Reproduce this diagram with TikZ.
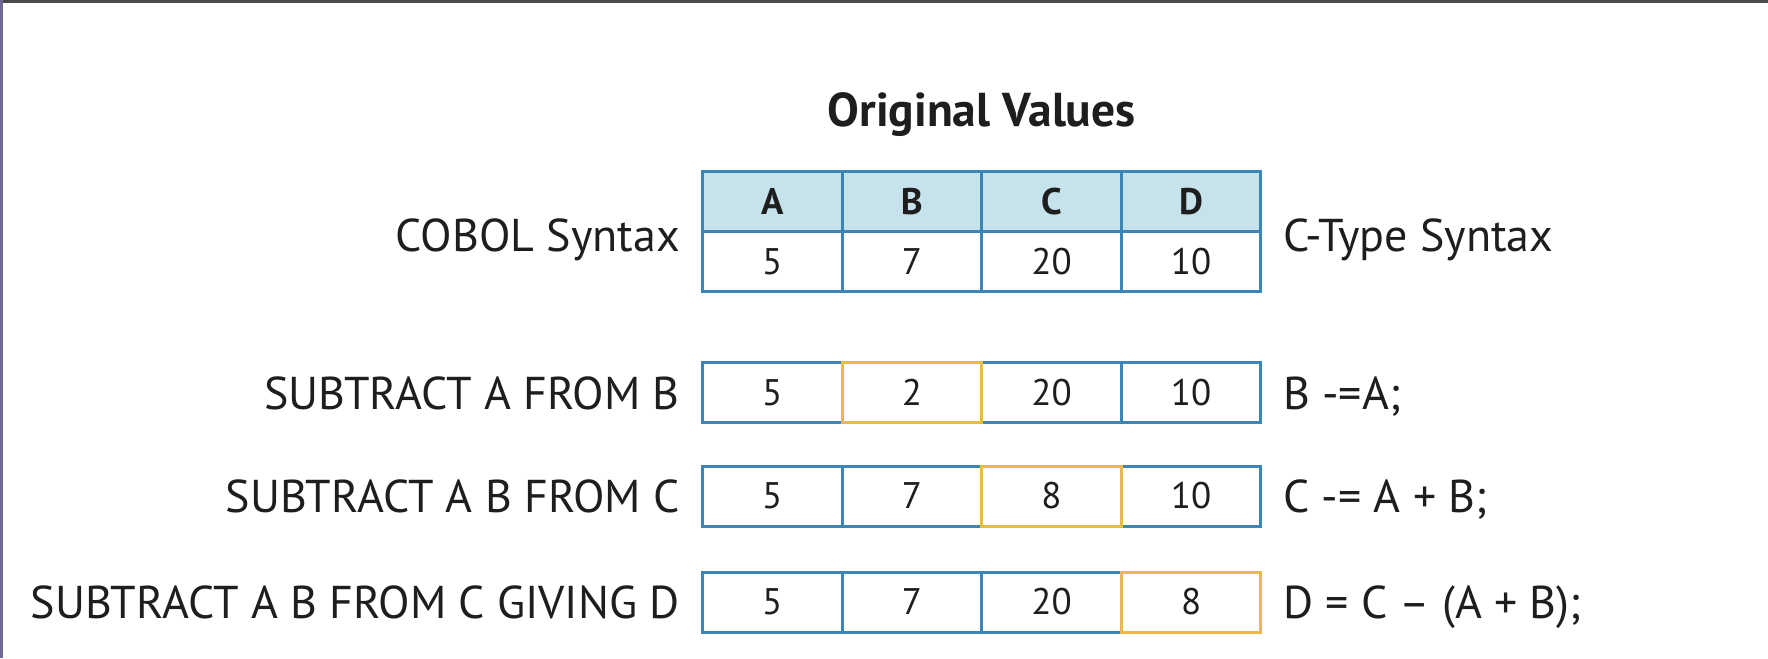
\documentclass[tikz,border=0pt]{standalone}
\usepackage{fontspec}
\setmainfont{PT Sans}
\definecolor{cellblue}{HTML}{3B86B9}
\definecolor{hdrfill}{HTML}{C6E2EA}
\definecolor{goldline}{HTML}{EBB94A}
\definecolor{ink}{HTML}{1E1E1E}
\definecolor{frameleft}{HTML}{6E6A92}
\definecolor{frametop}{HTML}{4A4A4A}
\begin{document}
\begin{tikzpicture}[x=1pt,y=-1pt,
  cell/.style={draw=cellblue, line width=3pt, minimum width=139.6pt, minimum height=60pt,
    inner sep=0pt, text=ink, font=\fontsize{37}{40}\selectfont},
  hdrcell/.style={cell, fill=hdrfill, font=\fontsize{37}{40}\selectfont\bfseries},
  hlcell/.style={cell, draw=goldline},
  lbl/.style={text=ink, inner sep=0pt, font=\fontsize{46}{50}\selectfont},
  ttl/.style={text=ink, inner sep=0pt, font=\fontsize{47.5}{50}\selectfont\bfseries}]
\useasboundingbox (0,0) rectangle (1768,658);
\fill[white] (0,0) rectangle (1768,658);
\fill[frametop] (0,0) rectangle (1768,3);
\fill[frameleft] (0,0) rectangle (3,658);

\node[ttl, anchor=base] (title) at (981.6,126) {Original Values};

% header table
\foreach \n/\x in {A/772.3, B/911.9, C/1051.5, D/1191.1}{
  \node[hdrcell] (h\n) at (\x,201.9) {\n};
}
\foreach \n/\x/\v in {A/772.3/5, B/911.9/7, C/1051.5/20, D/1191.1/10}{
  \node[cell] (v\n) at (\x,261.6) {\v};
}
\node[lbl, anchor=base east] (cobol) at (680,251) {COBOL Syntax};
\node[lbl, anchor=base west] (ctype) at (1283,251) {C-Type Syntax};

% row 1
\node[cell] (r1A) at (772.3,392.5) {5};
\node[cell] (r1C) at (1051.5,392.5) {20};
\node[cell] (r1D) at (1191.1,392.5) {10};
\node[hlcell] (r1B) at (911.9,392.5) {2};
\node[lbl, anchor=base east] (l1) at (680,409) {SUBTRACT A FROM B};
\node[lbl, anchor=base west] (c1) at (1283,409) {B -=A;};

% row 2
\node[cell] (r2A) at (772.3,496) {5};
\node[cell] (r2B) at (911.9,496) {7};
\node[cell] (r2D) at (1191.1,496) {10};
\node[hlcell] (r2C) at (1051.5,496) {8};
\node[lbl, anchor=base east] (l2) at (680,512.5) {SUBTRACT A B FROM C};
\node[lbl, anchor=base west] (c2) at (1283,512.5) {C -= A + B;};

% row 3
\node[cell] (r3A) at (772.3,602) {5};
\node[cell] (r3B) at (911.9,602) {7};
\node[cell] (r3C) at (1051.5,602) {20};
\node[hlcell] (r3D) at (1191.1,602) {8};
\node[lbl, anchor=base east] (l3) at (680,618.5) {SUBTRACT A B FROM C GIVING D};
\node[lbl, anchor=base west] (c3) at (1283,618.5) {D = C – (A + B);};
\end{tikzpicture}
\end{document}
